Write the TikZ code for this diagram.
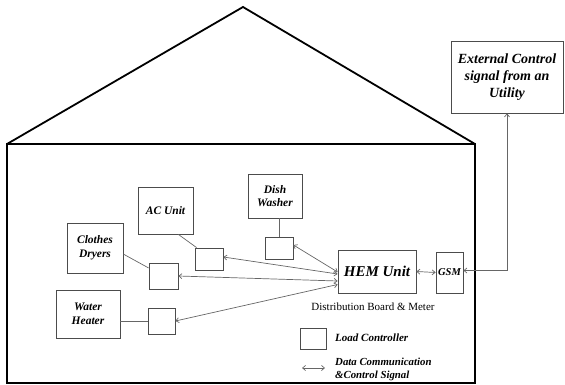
\documentclass[tikz,border=0pt]{standalone}
\usepackage{fontspec}
\setmainfont{Liberation Serif}
\usetikzlibrary{arrows.meta,calc}
\begin{document}
\begin{tikzpicture}[x=1pt,y=-1pt,
  house/.style={line width=1.8pt,black},
  box/.style={draw=black!70,line width=0.8pt,inner sep=1pt,align=center,
    font=\fontsize{11.5}{13.5}\selectfont\bfseries\itshape},
  ctrl/.style={draw=black!70,line width=0.8pt,inner sep=0pt},
  link/.style={draw=black!60,line width=0.7pt},
  sig/.style={draw=black!60,line width=0.7pt,{Straight Barb[length=3pt,width=5pt]}-{Straight Barb[length=3pt,width=5pt]}},
  lbl/.style={font=\fontsize{11}{12}\selectfont\bfseries\itshape,anchor=west,align=left,inner sep=0pt}
]
\useasboundingbox (0,0) rectangle (565,385);
% house
\draw[house,line join=miter] (7,144) -- (243,7) -- (475,144);
\draw[house] (7,144) rectangle (475,383);
% external
\node[box,minimum width=112pt,minimum height=72pt,inner sep=0pt,
  font=\fontsize{14}{17}\selectfont\bfseries\itshape] (ext) at (507,77)
  {External Control\\signal from an\\Utility};
% units
\node[box,minimum width=27pt,minimum height=41pt,inner sep=0pt,
  font=\fontsize{10.5}{12}\selectfont\bfseries\itshape] (gsm) at (449.5,272.5) {GSM};
\node[box,minimum width=78pt,minimum height=43pt,
  font=\fontsize{15}{17}\selectfont\bfseries\itshape] (hem) at (377,271.5) {HEM Unit};
\node[box,minimum width=54pt,minimum height=44pt] (dish) at (275,196) {Dish\\Washer};
\node[ctrl,minimum width=28pt,minimum height=22pt] (dishc) at (279,248) {};
\node[box,minimum width=55pt,minimum height=47pt] (ac) at (165.5,210.5) {AC Unit};
\node[ctrl,minimum width=28pt,minimum height=22pt] (acc) at (209,259) {};
\node[box,minimum width=56pt,minimum height=50pt] (dry) at (95,248) {Clothes\\Dryers};
\node[ctrl,minimum width=29pt,minimum height=26pt] (dryc) at (163.5,276) {};
\node[box,minimum width=64pt,minimum height=48pt] (wh) at (88,314) {Water\\Heater};
\node[ctrl,minimum width=27pt,minimum height=26pt] (whc) at (161.5,321) {};
% appliance to controller links
\draw[link] (dishc.north) -- (dishc.north |- dish.south);
\draw[link] ($(ac.south west)!0.73!(ac.south east)$) -- ($(acc.north west)+(2,0)$);
\draw[link] ($(dry.north east)!0.62!(dry.south east)$) -- ($(dryc.north west)!0.2!(dryc.south west)$);
\draw[link] (whc.west) -- (whc.west -| wh.east);
% signals from HEM
\draw[sig] ($(dishc.east)+(0,-3)$) -- ($(hem.west)+(0,0.5)$);
\draw[sig] ($(acc.east)+(0,-2)$) -- ($(hem.west)+(0,2.5)$);
\draw[sig] (dryc.east) -- ($(hem.west)+(0,9.5)$);
\draw[sig] (whc.east) -- ($(hem.west)+(0,13)$);
\draw[sig] (hem.east) -- (gsm.west);
\draw[sig] (ext.south) |- ($(gsm.east)+(0,-2)$);
% labels
\node[font=\fontsize{11}{13}\selectfont,inner sep=0pt] (dbm) at (373,307) {Distribution Board \& Meter};
\node[ctrl,minimum width=26pt,minimum height=21pt] (leg) at (313,338.5) {};
\node[lbl] (legt) at (335,338) {Load Controller};
\coordinate (la) at (302,368);
\coordinate (lb) at (325,368);
\draw[sig] (la) -- (lb);
\node[lbl,font=\fontsize{10.8}{13.5}\selectfont\bfseries\itshape] (legs) at (335,369.5) {Data Communication\\\&Control Signal};
\end{tikzpicture}
\end{document}
